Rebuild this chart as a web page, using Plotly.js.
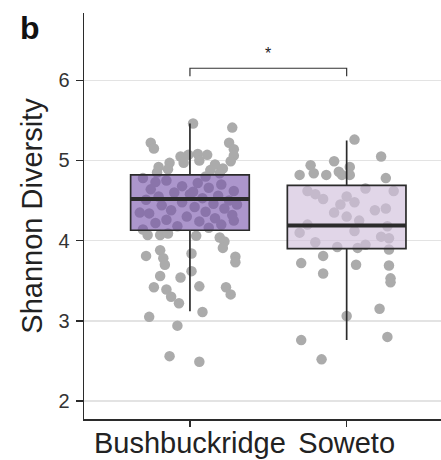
<!DOCTYPE html>
<html><head><meta charset="utf-8">
<script src="https://cdn.plot.ly/plotly-3.0.1.min.js"></script>
<style>html,body{margin:0;padding:0;background:#fff}#chart{width:441px;height:460px}</style>
</head><body><div id="chart"></div>
<script>
const categories = ['Bushbuckridge', 'Soweto'];
const yTicks = [2, 3, 4, 5, 6];

// box statistics
const q1 = [4.13, 3.90];
const medians = [4.52, 4.19];
const q3 = [4.82, 4.69];
const lowerWhisker = [3.12, 2.76];
const upperWhisker = [5.46, 5.25];

// individual samples (value) with their horizontal jitter (category units)
const bushValues = [5.46,5.41,5.22,5.15,5.22,5.14,5.06,4.99,4.92,4.97,5.05,5.07,5.08,5.07,5.00,4.95,4.90,4.85,4.89,4.88,4.84,4.97,
  4.78,4.75,4.72,4.70,4.68,4.66,4.64,4.62,4.60,4.58,4.56,4.55,4.53,4.51,4.50,4.48,4.46,4.44,4.42,4.40,4.38,4.36,4.34,4.32,4.30,4.28,4.26,4.24,4.22,4.20,4.18,4.16,4.14,4.80,4.73,4.45,4.61,4.35,4.25,
  4.07,4.07,4.09,4.06,4.04,3.99,3.81,3.88,3.78,3.70,3.84,3.91,3.80,3.73,3.56,3.54,3.62,3.42,3.39,3.30,3.22,3.43,3.42,3.33,3.05,3.11,2.94,2.56,2.49];
const bushJitter = [0.02,0.27,-0.25,-0.23,0.25,0.28,0.28,0.26,-0.20,-0.13,-0.06,-0.01,0.05,0.11,0.06,0.16,0.21,-0.21,-0.14,0.13,0.19,-0.04,
  -0.30,-0.15,0.05,0.20,-0.05,0.12,-0.25,0.28,-0.10,0.00,0.18,-0.20,0.08,-0.28,0.25,-0.05,0.15,-0.18,0.03,0.22,-0.12,0.10,-0.26,0.27,-0.02,0.16,-0.15,0.06,-0.22,0.20,-0.08,0.12,-0.30,0.10,-0.22,0.30,0.02,-0.32,0.28,
  -0.27,-0.19,-0.14,0.04,0.19,0.22,-0.28,-0.19,-0.17,-0.16,0.01,0.21,0.29,0.29,-0.19,-0.06,0.01,-0.23,-0.15,-0.12,-0.07,0.06,0.23,0.26,-0.26,0.08,-0.08,-0.13,0.06];
const sowetoValues = [5.26,5.05,4.94,4.99,4.92,4.82,4.84,4.82,4.86,4.82,4.82,4.78,
  4.65,4.62,4.58,4.55,4.52,4.48,4.45,4.40,4.35,4.30,4.25,4.20,4.18,4.12,4.10,4.05,4.03,3.98,3.95,3.92,4.62,4.38,
  3.72,3.81,3.59,3.70,3.91,3.69,3.53,3.48,3.89,3.06,3.15,2.80,2.76,2.52];
const sowetoJitter = [0.05,0.22,-0.23,-0.08,0.02,-0.30,-0.21,-0.13,-0.05,-0.03,0.02,0.25,
  0.12,-0.25,-0.20,0.00,-0.15,0.05,-0.04,0.25,-0.08,0.00,0.08,-0.25,0.26,0.05,-0.30,0.22,0.27,-0.20,0.12,-0.06,0.30,0.18,
  -0.29,-0.15,-0.15,0.06,0.07,0.27,0.28,0.28,0.27,0.00,0.21,0.26,-0.29,-0.16];

const groupValues = [bushValues, sowetoValues];
const groupJitter = [bushJitter, sowetoJitter];
const boxFills = ['rgba(117,80,170,0.6)', 'rgba(209,192,220,0.65)'];
const boxWidth = 0.757;
const xRange = [-0.676, 1.602];
const yRange = [1.776, 6.839];
const lineCol = '#2b2b2b';

const traces = [];
// jittered points (under the boxes)
groupValues.forEach((vals, i) => {
  traces.push({
    type: 'scatter', mode: 'markers', xaxis: 'x', yaxis: 'y',
    x: vals.map((v, k) => i + groupJitter[i][k]), y: vals,
    marker: {size: 10.5, color: '#ababab'}, hoverinfo: 'y', showlegend: false
  });
});
// boxes on overlay axes (drawn above the points)
categories.forEach((c, i) => {
  traces.push({
    type: 'box', xaxis: 'x2', yaxis: 'y2', name: c,
    x: [i], q1: [q1[i]], median: [medians[i]], q3: [q3[i]],
    lowerfence: [lowerWhisker[i]], upperfence: [upperWhisker[i]],
    width: boxWidth, whiskerwidth: 0, boxpoints: false,
    fillcolor: boxFills[i], line: {color: lineCol, width: 1.7}, showlegend: false
  });
});
// thick median lines
const mx = [], my = [];
categories.forEach((c, i) => { mx.push(i - boxWidth / 2, i + boxWidth / 2, null); my.push(medians[i], medians[i], null); });
traces.push({type: 'scatter', mode: 'lines', xaxis: 'x2', yaxis: 'y2', x: mx, y: my,
  line: {color: lineCol, width: 4}, hoverinfo: 'skip', showlegend: false});
// significance bracket
const bracketTop = 6.15, bracketFoot = 6.05;
traces.push({type: 'scatter', mode: 'lines', xaxis: 'x2', yaxis: 'y2',
  x: [0, 0, 1, 1], y: [bracketFoot, bracketTop, bracketTop, bracketFoot],
  line: {color: '#333', width: 1.2}, hoverinfo: 'skip', showlegend: false});

const layout = {
  width: 441, height: 460,
  margin: {l: 84, r: 0, t: 13, b: 41},
  paper_bgcolor: '#fff', plot_bgcolor: '#fff',
  font: {family: 'Liberation Sans, Arial, sans-serif', color: '#222'},
  xaxis: {range: xRange, tickvals: [0, 1], ticktext: categories, showgrid: false, zeroline: false,
    showline: true, linecolor: lineCol, linewidth: 1.5, ticks: 'outside', ticklen: 6, tickwidth: 1.5, tickcolor: lineCol,
    ticklabelstandoff: -8, tickfont: {size: 29, color: '#222'}},
  yaxis: {range: yRange, tickvals: yTicks, showgrid: true, gridcolor: '#e3e3e3', gridwidth: 1.5, zeroline: false,
    showline: true, linecolor: lineCol, linewidth: 1.5, ticks: 'outside', ticklen: 7, tickwidth: 1.5, tickcolor: lineCol,
    ticklabelstandoff: 2, tickfont: {size: 20, color: '#333'},
    title: {text: 'Shannon Diversity', font: {size: 29, color: '#222'}, standoff: 7}},
  xaxis2: {range: xRange, overlaying: 'x', visible: false},
  yaxis2: {range: yRange, overlaying: 'y', visible: false},
  annotations: [
    {text: '<b>b</b>', xref: 'paper', yref: 'paper', x: -0.18, y: 1.0, xanchor: 'left', yanchor: 'top',
      xshift: -2, yshift: 5, showarrow: false, font: {size: 32, color: '#111'}},
    {text: '*', xref: 'x2', yref: 'y2', x: 0.5, y: 6.33, showarrow: false, font: {size: 16, color: '#222'}}
  ]
};
Plotly.newPlot('chart', traces, layout, {displayModeBar: false, staticPlot: true});
</script></body></html>
